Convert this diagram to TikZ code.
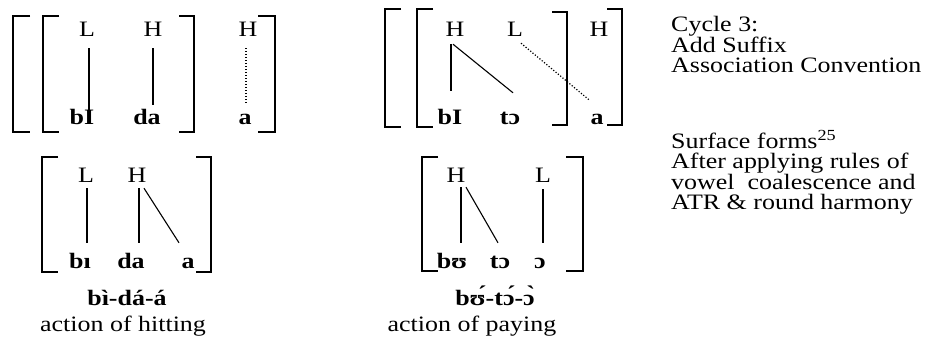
\documentclass[tikz,border=0pt]{standalone}
\usepackage{fontspec}
\setmainfont{Liberation Serif}[FakeStretch=1.18]
\begin{document}
\begin{tikzpicture}[x=1pt,y=-1pt,
  tone/.style={font=\fontsize{22}{22}\selectfont, inner sep=0pt, anchor=base, text height=14pt, text depth=0pt},
  syl/.style={font=\fontsize{22}{22}\selectfont\bfseries, inner sep=0pt, anchor=base, text height=15pt, text depth=0pt},
  gloss/.style={font=\fontsize{22}{22}\selectfont, inner sep=0pt, anchor=base},
  word/.style={font=\fontsize{22}{22}\selectfont\bfseries, inner sep=0pt, anchor=base},
  note/.style={font=\fontsize{22}{22}\selectfont, inner sep=0pt, anchor=base west},
  brk/.style={line width=1.2pt, line cap=butt},
  assoc/.style={line width=1.1pt},
  dotassoc/.style={line width=1.2pt, dash pattern=on 1.2pt off 1.8pt}]
\useasboundingbox (0,0) rectangle (928,353);

% ---------- top left ----------
\draw[brk] (30,16) -- (13,16) -- (13,132) -- (30,132);
\draw[brk] (59,16) -- (43,16) -- (43,132) -- (59,132);
\draw[brk] (179,16) -- (194,16) -- (194,132) -- (179,132);
\draw[brk] (258,16) -- (275,16) -- (275,132) -- (258,132);
\node[tone] (tA) at (87,37) {L};
\node[tone] (tB) at (153,37) {H};
\node[tone] (tC) at (248,37) {H};
\node[syl] (sA) at (82,124) {bI};
\node[syl] (sB) at (147,124) {da};
\node[syl] (sC) at (245,124) {a};
\draw[assoc] ([xshift=2pt,yshift=-11pt]tA.south) -- ([xshift=7pt,yshift=-4pt]sA.north);
\draw[assoc] ([yshift=-11pt]tB.south) -- ([xshift=6pt,yshift=4pt]sB.north);
\draw[dotassoc] ([xshift=-2pt,yshift=-11pt]tC.south) -- ([xshift=1pt,yshift=4pt]sC.north);

% ---------- top right ----------
\draw[brk] (401,9) -- (385,9) -- (385,127) -- (401,127);
\draw[brk] (433,9) -- (417,9) -- (417,127) -- (433,127);
\draw[brk] (552,12) -- (567,12) -- (567,125) -- (552,125);
\draw[brk] (607,9) -- (622,9) -- (622,125) -- (607,125);
\node[tone] (tD) at (455,37) {H};
\node[tone] (tE) at (515,37) {L};
\node[tone] (tF) at (599,37) {H};
\node[syl] (sD) at (450,124) {bI};
\node[syl] (sE) at (510,124) {tɔ};
\node[syl] (sF) at (597,124) {a};
\draw[assoc] ([xshift=-4pt,yshift=-7pt]tD.south) -- ([xshift=1pt,yshift=18pt]sD.north);
\draw[assoc] ([xshift=-2pt,yshift=-7pt]tD.south) -- ([xshift=3pt,yshift=16pt]sE.north);
\draw[dotassoc] ([xshift=6pt,yshift=-6pt]tE.south) -- ([xshift=-8pt,yshift=9pt]sF.north);

% ---------- bottom left ----------
\draw[brk] (58,157) -- (42,157) -- (42,272) -- (58,272);
\draw[brk] (196,157) -- (211,157) -- (211,272) -- (196,272);
\node[tone] (tG) at (86,182) {L};
\node[tone] (tH) at (137,182) {H};
\node[syl] (sG) at (80,268) {bı};
\node[syl] (sH) at (131,268) {da};
\node[syl] (sI) at (188,268) {a};
\draw[assoc] ([xshift=1pt,yshift=-6pt]tG.south) -- ([xshift=7pt,yshift=10pt]sG.north);
\draw[assoc] ([xshift=2pt,yshift=-6pt]tH.south) -- ([xshift=8pt,yshift=10pt]sH.north);
\draw[assoc] ([xshift=7pt,yshift=-6pt]tH.south) -- ([xshift=-9pt,yshift=10pt]sI.north);
\node[word] (wA) at (127,305) {bì-dá-á};
\node[gloss] (gA) at (123,331) {action of hitting};

% ---------- bottom right ----------
\draw[brk] (438,157) -- (422,157) -- (422,271) -- (438,271);
\draw[brk] (566,157) -- (583,157) -- (583,271) -- (566,271);
\node[tone] (tJ) at (456,182) {H};
\node[tone] (tK) at (543,182) {L};
\node[syl] (sJ) at (452,268) {bʊ};
\node[syl] (sK) at (500,268) {tɔ};
\node[syl] (sL) at (540,268) {ɔ};
\draw[assoc] ([xshift=5pt,yshift=-5pt]tJ.south) -- ([xshift=9pt,yshift=10pt]sJ.north);
\draw[assoc] ([xshift=10pt,yshift=-5pt]tJ.south) -- ([xshift=-2pt,yshift=10pt]sK.north);
\draw[assoc] ([yshift=-7pt]tK.south) -- ([xshift=3pt,yshift=10pt]sL.north);
\node[word] (wB) at (495,305) {bʊ́-tɔ́-ɔ̀};
\node[gloss] (gB) at (472,331) {action of paying};

% ---------- right notes ----------
\node[note] (n1) at (671,32) {Cycle 3:};
\node[note] (n2) at (671,52.5) {Add Suffix};
\node[note] (n3) at (671,73) {Association Convention};
\node[note] (n4) at (671,148) {Surface forms\textsuperscript{25}};
\node[note] (n5) at (671,168.5) {After applying rules of};
\node[note] (n6) at (671,189) {vowel\ \ coalescence and};
\node[note] (n7) at (671,209.5) {ATR \& round harmony};
\end{tikzpicture}
\end{document}
